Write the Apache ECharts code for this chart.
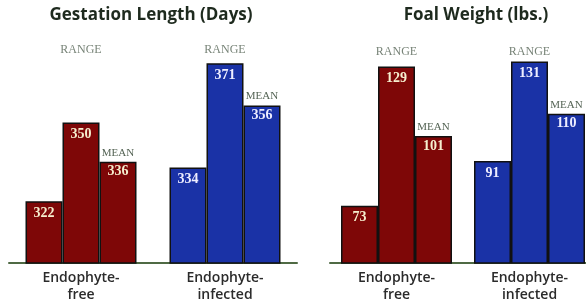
<!DOCTYPE html>
<html>
<head>
<meta charset="utf-8">
<script src="https://cdn.jsdelivr.net/npm/echarts@6/dist/echarts.min.js"></script>
<style>
  html, body { margin: 0; padding: 0; background: #fff; }
  #chart { width: 586px; height: 305px; }
</style>
</head>
<body>
<div id="chart"></div>
<script>
// groups on both panels
var categories = ['Endophyte-\nfree', 'Endophyte-\ninfected'];

// gestation length (days)
var gestLow = [322, 334];
var gestHigh = [350, 371];
var gestMean = [336, 356];

// foal weight (lbs.)
var weightLow = [73, 91];
var weightHigh = [129, 131];
var weightMean = [101, 110];

var groupColors = ['#7e0707', '#1a32a6'];
var numColors = ['#f6efcf', '#eeeeff'];

var chart = echarts.init(document.getElementById('chart'));

function items(arr) {
    return arr.map(function (v, i) {
        return {
            value: v,
            itemStyle: { color: groupColors[i] },
            label: { color: numColors[i] }
        };
    });
}

var numStyle = {
    fontFamily: 'Liberation Serif',
    fontWeight: 'bold',
    fontSize: 14
};

function rangeBar(name, arr, idx) {
    return {
        name: name,
        type: 'bar',
        xAxisIndex: idx,
        yAxisIndex: idx,
        barWidth: 37,
        barGap: '0%',
        itemStyle: { borderColor: '#111', borderWidth: 1.5 },
        label: Object.assign({
            show: true,
            position: 'insideTop',
            distance: 5
        }, numStyle),
        data: items(arr)
    };
}

function meanBar(arr, idx) {
    return {
        name: 'Mean',
        type: 'bar',
        xAxisIndex: idx,
        yAxisIndex: idx,
        barWidth: 37,
        barGap: '0%',
        itemStyle: { borderColor: '#111', borderWidth: 1.5 },
        label: {
            show: true,
            position: ['50%', -16],
            align: 'center',
            verticalAlign: 'top',
            formatter: function (p) { return '{m|MEAN}\n{v|' + p.value + '}'; },
            rich: {
                m: { fontFamily: 'Liberation Serif', fontSize: 11, color: '#556455', lineHeight: 14 },
                v: Object.assign({ lineHeight: 24 }, numStyle)
            }
        },
        data: items(arr)
    };
}

function rangeText(yv, idx) {
    return {
        type: 'scatter',
        xAxisIndex: idx,
        yAxisIndex: idx,
        symbolSize: 0,
        silent: true,
        label: {
            show: true,
            position: 'inside',
            formatter: 'RANGE',
            fontFamily: 'Liberation Serif',
            fontSize: 12,
            color: '#556455'
        },
        data: [yv, yv]
    };
}

var xAxisBase = {
    type: 'category',
    data: categories,
    axisTick: { show: false },
    axisLine: { lineStyle: { color: '#4f6a44', width: 2 } },
    axisLabel: {
        margin: 7,
        fontFamily: 'Open Sans',
        fontWeight: 600,
        fontSize: 14,
        lineHeight: 17,
        color: '#2b2b2b'
    }
};

var option = {
    animation: false,
    backgroundColor: '#fff',
    grid: [
        { left: 9, width: 288, top: 38, height: 225, outerBoundsMode: 'none' },
        { left: 330, width: 266, top: 39, height: 224, outerBoundsMode: 'none' }
    ],
    xAxis: [
        Object.assign({ gridIndex: 0 }, xAxisBase),
        Object.assign({ gridIndex: 1 }, xAxisBase)
    ],
    yAxis: [
        { gridIndex: 0, type: 'value', min: 300, max: 380, show: false },
        { gridIndex: 1, type: 'value', min: 50, max: 140, show: false }
    ],
    graphic: [
        {
            type: 'text', x: 151, y: 7,
            style: {
                text: 'Gestation Length (Days)', textAlign: 'center',
                font: 'bold 17px "Open Sans"', fill: '#1e2a1e'
            }
        },
        {
            type: 'text', x: 476, y: 7,
            style: {
                text: 'Foal Weight (lbs.)', textAlign: 'center',
                font: 'bold 17px "Open Sans"', fill: '#1e2a1e'
            }
        }
    ],
    series: [
        rangeBar('Low', gestLow, 0),
        rangeBar('High', gestHigh, 0),
        meanBar(gestMean, 0),
        rangeText(375.7, 0),
        rangeBar('Low', weightLow, 1),
        rangeBar('High', weightHigh, 1),
        meanBar(weightMean, 1),
        rangeText(134.8, 1)
    ]
};

chart.setOption(option);
</script>
</body>
</html>
